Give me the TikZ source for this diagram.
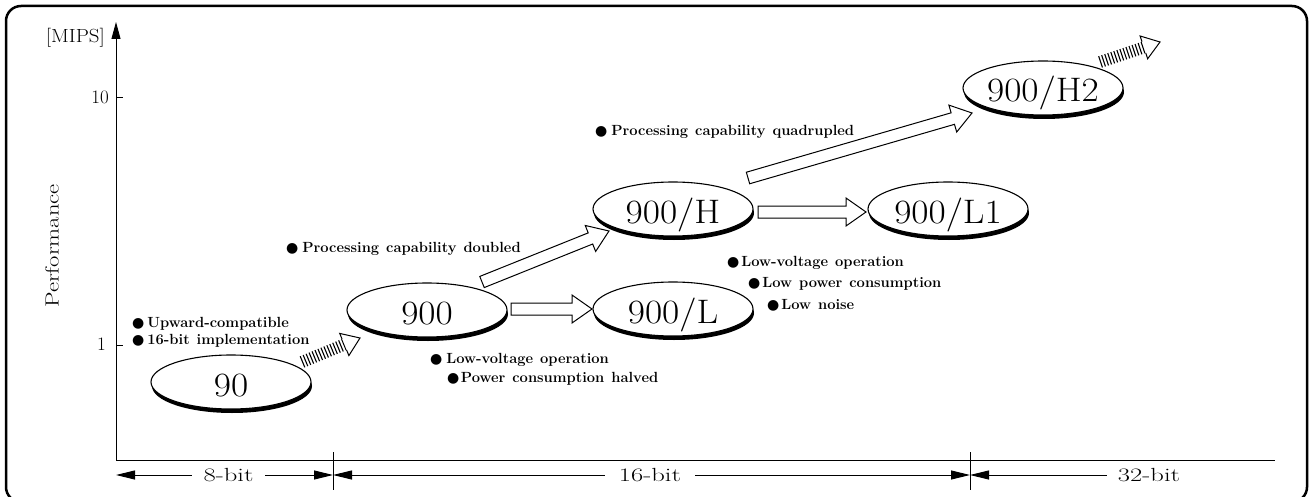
\documentclass[tikz,border=0pt]{standalone}
\usepackage{fontspec}
\newfontfamily\dvsans{DejaVu Sans}
\usetikzlibrary{calc,shapes.geometric,arrows.meta,shadows}
\newcommand\bul{{\dvsans\fontsize{14}{12}\selectfont ●}}
\newcommand\notefont{\bfseries\fontsize{14.7}{16}\selectfont\spaceskip=7pt plus 1pt\relax}
\newcommand\wide[2]{\scalebox{#1}[1]{#2}}
\tikzset{
  bsw/.store in=\bsw, bhw/.store in=\bhw, bhl/.store in=\bhl,
  bsw=6pt, bhw=14pt, bhl=20pt,
  blockarrow/.style={draw, fill=white, line width=1pt, line join=miter, to path={
    ($(\tikztostart)!\bsw!90:(\tikztotarget)$)
    -- ($($(\tikztotarget)!\bhl!(\tikztostart)$)!\bsw!90:(\tikztotarget)$)
    -- ($($(\tikztotarget)!\bhl!(\tikztostart)$)!\bhw!90:(\tikztotarget)$)
    -- (\tikztotarget)
    -- ($($(\tikztotarget)!\bhl!(\tikztostart)$)!\bhw!-90:(\tikztotarget)$)
    -- ($($(\tikztotarget)!\bhl!(\tikztostart)$)!\bsw!-90:(\tikztotarget)$)
    -- ($(\tikztostart)!\bsw!-90:(\tikztotarget)$) -- cycle}},
  headonly/.style={draw, line width=1pt, line join=miter, to path={
    ($($(\tikztotarget)!\bhl!(\tikztostart)$)!\bsw!90:(\tikztotarget)$)
    -- ($($(\tikztotarget)!\bhl!(\tikztostart)$)!\bhw!90:(\tikztotarget)$)
    -- (\tikztotarget)
    -- ($($(\tikztotarget)!\bhl!(\tikztostart)$)!\bhw!-90:(\tikztotarget)$)
    -- ($($(\tikztotarget)!\bhl!(\tikztostart)$)!\bsw!-90:(\tikztotarget)$)}},
  hatch/.style={line width=12pt, dash pattern=on 1.1pt off 2.1pt},
  disk/.style={ellipse, draw, line width=1.1pt, fill=white, minimum width=160pt,
    minimum height=54pt, inner sep=0pt, text height=28pt, text depth=0pt,
    font=\fontsize{34}{36}\selectfont,
    drop shadow={shadow xshift=1pt, shadow yshift=-4pt, opacity=1, fill=black}},
  note/.style={anchor=base west, inner sep=0pt, font=\notefont},
  axislbl/.style={font=\fontsize{19}{22}\selectfont, inner sep=0pt},
  dimlbl/.style={font=\fontsize{19}{20}\selectfont, inner sep=0pt, minimum height=12pt},
  dimtip/.style={-{Triangle[length=19pt,width=9pt]}},
  thinline/.style={line width=0.9pt},
}
\begin{document}
\begin{tikzpicture}[x=1pt,y=-1pt]
\useasboundingbox (0,0) rectangle (1313,497);
\draw[line width=2.5pt, rounded corners=15pt] (6,6) rectangle (1307,502);

% axes
\coordinate (O) at (116,460);
\coordinate (ytop) at (116,22);
\coordinate (xend) at (1275,460);
\draw[thinline, -{Triangle[length=17pt,width=9pt]}] (O) -- (ytop);
\draw[thinline] (O) -- (xend);
\draw[thinline] (116,97) -- (123,97);
\draw[thinline] (116,345) -- (123,345);
\node[axislbl, anchor=east] (mips) at (105,38) {\wide{1.1}{[MIPS]}};
\node[axislbl, anchor=east] (l10) at (109,97) {10};
\node[axislbl, anchor=east] (l1) at (106,344) {1};
\node[axislbl, rotate=90] (perf) at (52,246) {\wide{1.3}{Performance}};

% bit-width dimension line
\coordinate (t0) at (116,475);
\coordinate (t1) at (333,475);
\coordinate (t2) at (970,475);
\draw[thinline] (333,452) -- (333,490);
\draw[thinline] (970,452) -- (970,490);
\node[dimlbl, minimum width=73pt] (d8) at (228.5,475) {\wide{1.4}{8-bit}};
\node[dimlbl, minimum width=90pt] (d16) at (650,475) {\wide{1.4}{16-bit}};
\node[dimlbl, minimum width=84pt] (d32) at (1149,475) {\wide{1.4}{32-bit}};
\draw[thinline, dimtip] (d8) -- (t0);
\draw[thinline, dimtip] (d8) -- (t1);
\draw[thinline, dimtip] (d16) -- (t1);
\draw[thinline, dimtip] (d16) -- (t2);
\draw[thinline, dimtip] (d32) -- (t2);

% processors
\node[disk] (n90) at (231,382) {\wide{1.1}{90}};
\node[disk] (n900) at (427,310) {\wide{1.1}{900}};
\node[disk] (nH) at (673,209) {\wide{1.1}{900/H}};
\node[disk] (nL) at (673,309) {\wide{1.1}{900/L}};
\node[disk] (nL1) at (948,209) {\wide{1.1}{900/L1}};
\node[disk] (nH2) at (1043,88) {\wide{1.1}{900/H2}};

% block arrows
\draw[blockarrow] ($(n900.center)+(84,-1)$) to ($(nL.center)+(-81,0)$);
\draw[blockarrow] ($(n900.center)+(55,-28)$) to ($(nH.center)+(-64,22)$);
\draw[blockarrow] ($(nH.center)+(85,3)$) to ($(nL1.center)+(-82,3)$);
\draw[blockarrow] ($(nH.center)+(75,-31)$) to ($(nH2.center)+(-71,25)$);

% hatched arrows
\coordinate (h1s) at ($(n90.center)+(71,-20)$);
\coordinate (h1t) at ($(n900.center)+(-67,28)$);
\draw[hatch] (h1s) -- ($(h1t)!17pt!(h1s)$);
\draw[headonly, bsw=6pt, bhw=12pt, bhl=17pt] (h1s) to (h1t);
\coordinate (h2s) at ($(nH2.center)+(57,-26)$);
\coordinate (h2t) at (1160,42);
\draw[hatch] (h2s) -- ($(h2t)!17pt!(h2s)$);
\draw[headonly, bsw=6pt, bhw=12pt, bhl=17pt] (h2s) to (h2t);

% notes
\node[note] (a1) at (132,327.5) {\bul\hspace{3pt}Upward-compatible};
\node[note] (a2) at (132,344.5) {\bul\hspace{3pt}16-bit implementation};
\node[note] (b1) at (286,252.5) {\bul\hspace{4pt}Processing capability doubled};
\node[note] (c1) at (430,363.5) {\bul\hspace{4pt}Low-voltage operation};
\node[note] (c2) at (447,382.5) {\bul\hspace{1.5pt}Power consumption halved};
\node[note] (e1) at (595,135.5) {\bul\hspace{4pt}Processing capability quadrupled};
\node[note] (f1) at (727,266.5) {\bul\hspace{2pt}Low-voltage operation};
\node[note] (f2) at (748,287.5) {\bul\hspace{2pt}Low power consumption};
\node[note] (f3) at (767,309.5) {\bul\hspace{2pt}Low noise};
\end{tikzpicture}
\end{document}
